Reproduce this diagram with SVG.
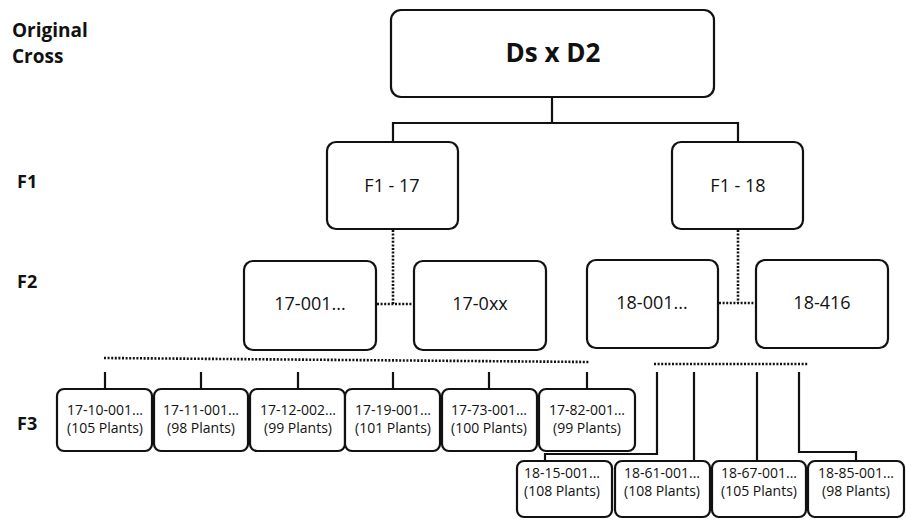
<svg xmlns="http://www.w3.org/2000/svg" width="906" height="519" viewBox="0 0 906 519">
<style>
.box{fill:#fff;stroke:#111;stroke-width:2.2}
.t{font-family:"Open Sans","Liberation Sans",sans-serif;fill:#111;text-anchor:middle}
.lab{font-family:"Open Sans","Liberation Sans",sans-serif;font-weight:bold;fill:#111}
.s{fill:none;stroke:#111;stroke-width:2.2}
.d{fill:none;stroke:#111;stroke-width:2.6;stroke-dasharray:2 1.6}
.f2{font-size:18px}
.f3{font-size:14px}
</style>
<rect width="906" height="519" fill="#fff"/>
<g id="labels">
<text class="lab" x="12" y="37" font-size="19">Original</text>
<text class="lab" x="12" y="63" font-size="19">Cross</text>
<text class="lab" x="17" y="188" font-size="18">F1</text>
<text class="lab" x="17" y="288" font-size="18">F2</text>
<text class="lab" x="17" y="430" font-size="18">F3</text>
</g>
<g id="connectors">
<path class="s" d="M552 97 V123 M393 123 H738 M393 122 V141 M738 122 V141"/>
<path class="d" d="M393 230 V304 M377 304 H414"/>
<path class="d" d="M738 230 V303 M719 303 H756"/>
<path class="d" d="M104 358 L590 362"/>
<path class="s" d="M105 372 V389 M201 372 V389 M298 372 V389 M393 372 V389 M489 372 V389 M587 372 V389"/>
<path class="d" d="M654 364 H808"/>
<path class="s" d="M657 372 V454 H545 V461 M694 372 V461 M757 372 V461 M799 372 V452 H856 V461"/>
</g>
<g id="n-root"><rect class="box" x="391" y="10" width="323" height="87" rx="10"/><text class="t" x="553" y="62" font-size="26" font-weight="bold">Ds x D2</text></g>
<g id="n-f1-17"><rect class="box" x="327" y="142" width="131" height="87" rx="9"/><text class="t f2" x="392" y="192">F1 - 17</text></g>
<g id="n-f1-18"><rect class="box" x="672" y="142" width="131" height="87" rx="9"/><text class="t f2" x="738" y="192">F1 - 18</text></g>
<g id="n-17-001"><rect class="box" x="244" y="261" width="132" height="89" rx="9"/><text class="t f2" x="310" y="310">17-001...</text></g>
<g id="n-17-0xx"><rect class="box" x="414" y="261" width="132" height="89" rx="9"/><text class="t f2" x="480" y="310">17-0xx</text></g>
<g id="n-18-001"><rect class="box" x="587" y="260" width="131" height="88" rx="9"/><text class="t f2" x="652" y="309">18-001...</text></g>
<g id="n-18-416"><rect class="box" x="756" y="260" width="132" height="88" rx="9"/><text class="t f2" x="822" y="309">18-416</text></g>
<g id="n-17-10"><rect class="box" x="57" y="389" width="95" height="62" rx="7"/><text class="t f3" x="105" y="415">17-10-001...</text><text class="t f3" x="105" y="433">(105 Plants)</text></g>
<g id="n-17-11"><rect class="box" x="154" y="389" width="94" height="62" rx="7"/><text class="t f3" x="201" y="415">17-11-001...</text><text class="t f3" x="201" y="433">(98 Plants)</text></g>
<g id="n-17-12"><rect class="box" x="250" y="389" width="95" height="62" rx="7"/><text class="t f3" x="298" y="415">17-12-002...</text><text class="t f3" x="298" y="433">(99 Plants)</text></g>
<g id="n-17-19"><rect class="box" x="345" y="389" width="95" height="62" rx="7"/><text class="t f3" x="393" y="415">17-19-001...</text><text class="t f3" x="393" y="433">(101 Plants)</text></g>
<g id="n-17-73"><rect class="box" x="442" y="389" width="95" height="62" rx="7"/><text class="t f3" x="489" y="415">17-73-001...</text><text class="t f3" x="489" y="433">(100 Plants)</text></g>
<g id="n-17-82"><rect class="box" x="539" y="389" width="96" height="62" rx="7"/><text class="t f3" x="587" y="415">17-82-001...</text><text class="t f3" x="587" y="433">(99 Plants)</text></g>
<g id="n-18-15"><rect class="box" x="517" y="461" width="95" height="56" rx="7"/><text class="t f3" x="562" y="478">18-15-001...</text><text class="t f3" x="562" y="496">(108 Plants)</text></g>
<g id="n-18-61"><rect class="box" x="615" y="461" width="95" height="56" rx="7"/><text class="t f3" x="662" y="478">18-61-001...</text><text class="t f3" x="662" y="496">(108 Plants)</text></g>
<g id="n-18-67"><rect class="box" x="712" y="461" width="94" height="56" rx="7"/><text class="t f3" x="759" y="478">18-67-001...</text><text class="t f3" x="759" y="496">(105 Plants)</text></g>
<g id="n-18-85"><rect class="box" x="808" y="461" width="96" height="56" rx="7"/><text class="t f3" x="856" y="478">18-85-001...</text><text class="t f3" x="856" y="496">(98 Plants)</text></g>
</svg>
